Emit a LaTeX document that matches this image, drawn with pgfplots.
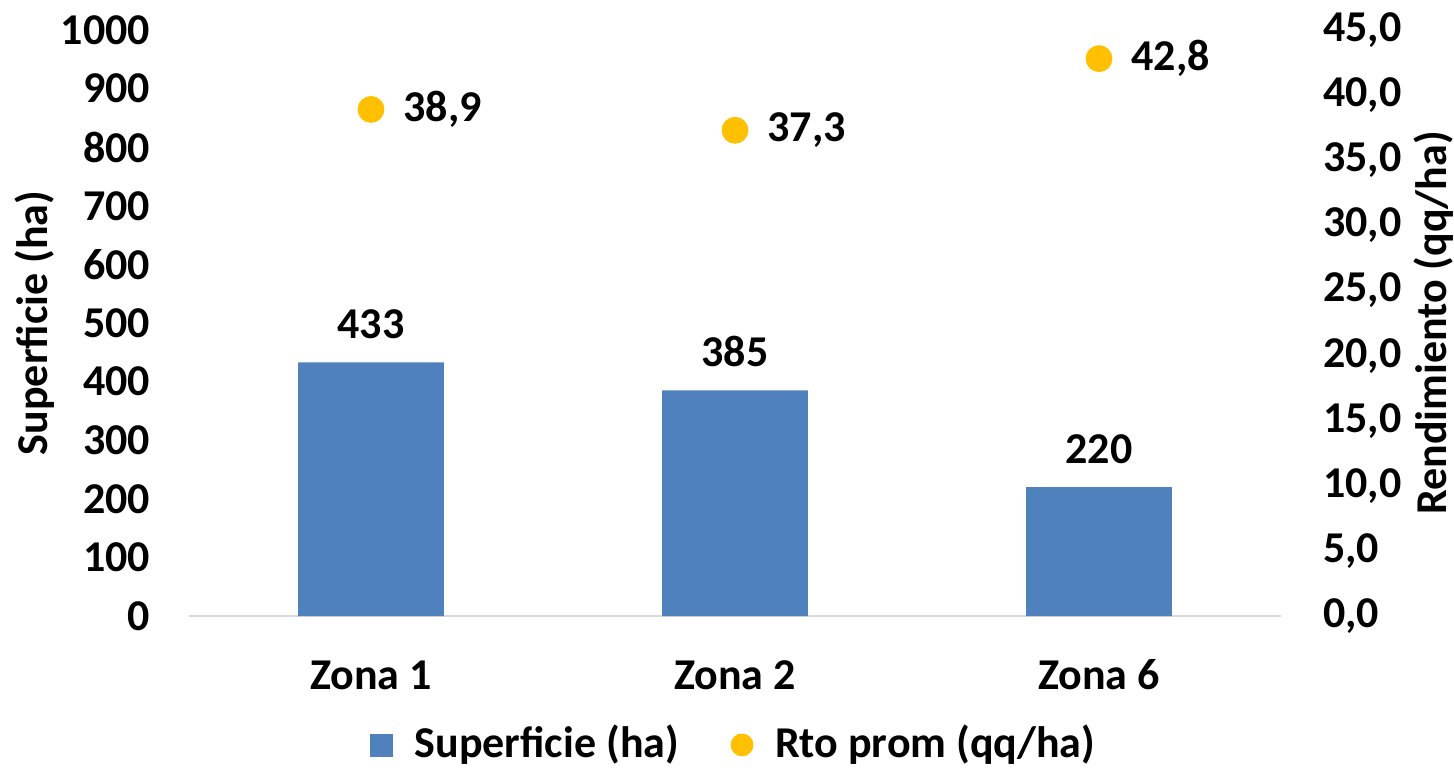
\documentclass[border=0pt]{standalone}
\usepackage{pgfplots}
\pgfplotsset{compat=1.18}
\usepackage{fontspec}
\setmainfont{Carlito}
\definecolor{barblue}{RGB}{79,129,189}
\definecolor{dotyellow}{RGB}{255,192,0}
\definecolor{gridgray}{RGB}{217,217,217}

\pgfplotstableread{
x sup rto
0 433 38.9
1 385 37.3
2 220 42.8
}\datatab

\newcommand{\chartfont}{\fontsize{22}{26}\selectfont\bfseries}
\tikzset{commafmt/.style={/pgf/number format/fixed, /pgf/number format/fixed zerofill,
    /pgf/number format/precision=1, /pgf/number format/use comma}}

\begin{document}
\chartfont
\begin{tikzpicture}
\useasboundingbox (-94.5pt,-77.5pt) rectangle (632.5pt,308pt);
\pgfplotsset{
  common/.style={
    scale only axis, width=546pt, height=293pt,
    at={(0,0)}, anchor=south west,
    xmin=-0.5, xmax=2.5,
    ymin=0,
    tick style={draw=none},
    /pgf/number format/assume math mode=true,
    ticklabel style={font=\chartfont},
    label style={font=\chartfont},
  },
}
% ---- left axis: superficie (bars) ----
\begin{axis}[common,
  ymax=1000, ytick={0,100,...,1000},
  ymajorgrids, grid style={gridgray, line width=1pt},
  axis x line*=bottom, axis y line=none,
  x axis line style={gridgray, line width=1pt},
  xtick={0,1,2}, xticklabels={Zona 1,Zona 2,Zona 6},
  xticklabel style={yshift=-14pt, text height=15pt, text depth=4pt},
  legend style={at={(0.5,-0.22)}, anchor=center, draw=none,
    legend columns=2, font=\chartfont,
    /tikz/every odd column/.append style={column sep=9pt},
    /tikz/every even column/.append style={column sep=24pt}},
  legend cell align=left,
]
\addplot[ybar, bar width=0.4, fill=barblue, draw=none,
  nodes near coords, point meta=explicit,
  every node near coord/.append style={font=\chartfont, black, anchor=south, inner sep=0pt, yshift=11.5pt},
  forget plot]
  table[x=x, y=sup, meta=sup] {\datatab};
\addlegendimage{only marks, mark=square*, mark size=5.5pt, color=barblue}
\addlegendentry{Superficie (ha)}
\addlegendimage{only marks, mark=*, mark size=5.5pt, color=dotyellow}
\addlegendentry{Rto prom (qq/ha)}
\end{axis}
% left tick labels and title
\begin{axis}[common,
  ymax=1000, ytick={0,100,...,1000},
  axis x line=none, axis y line*=left,
  y axis line style={draw=none},
  /pgf/number format/1000 sep={},
  yticklabel style={xshift=-12pt},
  ylabel={Superficie (ha)},
  every axis y label/.style={at={(axis description cs:-0.141,0.5)}, anchor=center, rotate=90},
  xtick=\empty,
]
\addplot[draw=none] coordinates {(0,0)};
\end{axis}
% ---- right axis: rendimiento (points) ----
\begin{axis}[common,
  ymax=45, ytick={0,5,...,45},
  axis x line=none, axis y line*=right,
  y axis line style={draw=none},
  yticklabel style={xshift=13.5pt, anchor=west, commafmt},
  ylabel={Rendimiento (qq/ha)},
  every axis y label/.style={at={(axis description cs:1.140,0.5)}, anchor=center, rotate=90},
  xtick=\empty,
]
\addplot[only marks, mark=*, mark size=6.5pt, color=dotyellow,
  nodes near coords, point meta=explicit,
  every node near coord/.append style={font=\chartfont, black, anchor=west, inner sep=0pt, xshift=16pt, commafmt}]
  table[x=x, y=rto, meta=rto] {\datatab};
\end{axis}
\end{tikzpicture}
\end{document}
